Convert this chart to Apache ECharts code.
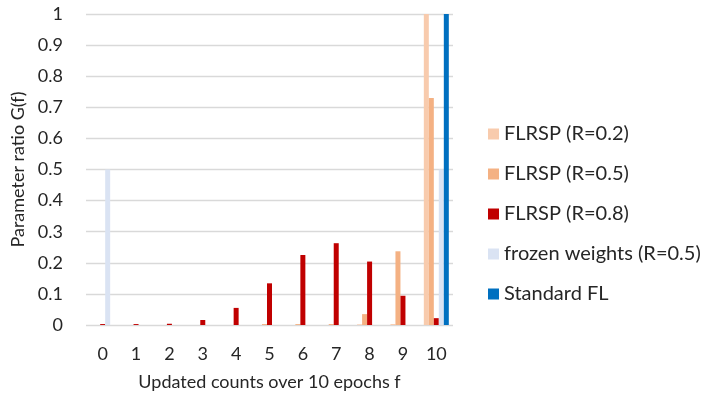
<!DOCTYPE html>
<html>
<head>
<meta charset="utf-8">
<script src="https://cdn.jsdelivr.net/npm/echarts@6/dist/echarts.min.js"></script>
<style>
  html, body { margin: 0; padding: 0; background: #fff; }
  #chart { width: 711px; height: 399px; }
</style>
</head>
<body>
<div id="chart"></div>
<script>
const categories = ["0", "1", "2", "3", "4", "5", "6", "7", "8", "9", "10"];
const flrsp02 = [0, 0, 0, 0, 0, 0, 0, 0, 0.002, 0.003, 1.0];
const flrsp05 = [0, 0, 0, 0, 0, 0.003, 0.003, 0.003, 0.035, 0.237, 0.73];
const flrsp08 = [0.003, 0.003, 0.004, 0.016, 0.055, 0.134, 0.225, 0.263, 0.204, 0.094, 0.022];
const frozen05 = [0.5, 0, 0, 0, 0, 0, 0, 0, 0, 0, 0.5];
const standardFL = [0, 0, 0, 0, 0, 0, 0, 0, 0, 0, 1.0];

const FONT = "Lato, 'Open Sans', sans-serif";
const TXT = "#262626";
const chart = echarts.init(document.getElementById("chart"));

const bar = (name, data, color) => ({
  name,
  type: "bar",
  data,
  barWidth: 5,
  barGap: "0%",
  itemStyle: { color },
});

chart.setOption({
  animation: false,
  textStyle: { fontFamily: FONT },
  grid: { left: 86, right: 258, top: 14, bottom: 74 },
  legend: {
    orient: "vertical",
    left: 483,
    top: 119,
    itemWidth: 11,
    itemHeight: 11,
    itemGap: 20,
    icon: "rect",
    textStyle: { fontSize: 20, color: TXT, fontFamily: FONT },
  },
  xAxis: {
    type: "category",
    data: categories,
    name: "Updated counts over 10 epochs f",
    nameLocation: "middle",
    nameGap: 48,
    nameTextStyle: { fontSize: 18, color: TXT },
    axisLine: { show: false },
    axisTick: { show: false },
    axisLabel: { fontSize: 18, color: TXT, margin: 20 },
  },
  yAxis: {
    type: "value",
    min: 0,
    max: 1,
    interval: 0.1,
    name: "Parameter ratio G(f)",
    nameLocation: "middle",
    nameGap: 59,
    nameTextStyle: { fontSize: 18, color: TXT },
    axisLine: { show: false },
    axisTick: { show: false },
    axisLabel: { fontSize: 18, color: TXT, margin: 23 },
    splitLine: { lineStyle: { color: "#D9D9D9", width: 1.3 } },
  },
  series: [
    bar("FLRSP (R=0.2)", flrsp02, "#F8CBAD"),
    bar("FLRSP (R=0.5)", flrsp05, "#F4B183"),
    bar("FLRSP (R=0.8)", flrsp08, "#C00000"),
    bar("frozen weights (R=0.5)", frozen05, "#DAE3F3"),
    bar("Standard FL", standardFL, "#0070C0"),
  ],
});
</script>
</body>
</html>
